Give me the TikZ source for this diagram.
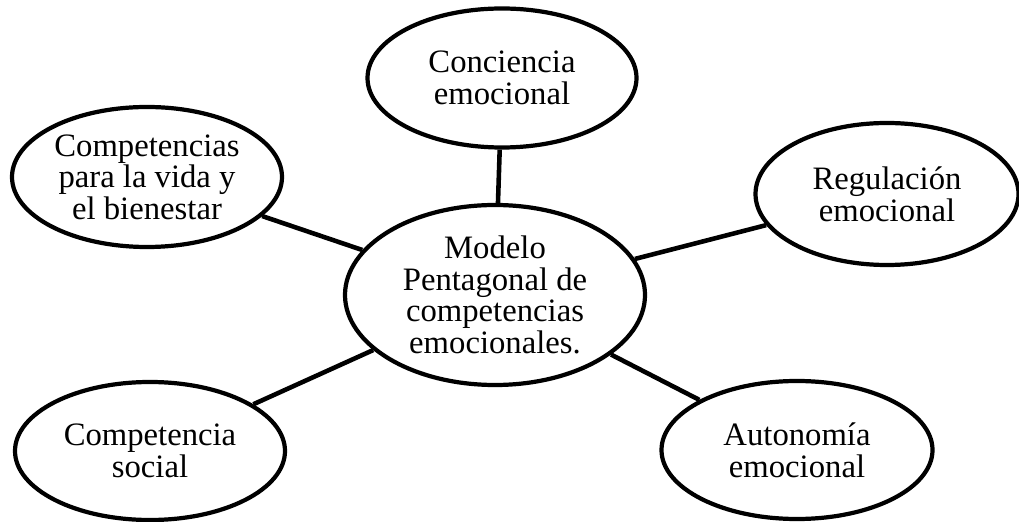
\documentclass[tikz,border=0pt]{standalone}
\usepackage{fontspec}
\setmainfont{Liberation Serif}
\usetikzlibrary{shapes,positioning}

\begin{document}
\begin{tikzpicture}[
    topic/.style={ellipse, draw=black, line width=2.4pt, fill=white, inner sep=0pt, align=center, font=\fontsize{18.6}{18}\selectfont},
    core/.style={topic, minimum width=6cm, minimum height=3.6cm},
    link/.style={line width=2.6pt}
]
\useasboundingbox (0,0) rectangle (20.38,10.42);

% Central node
\node[core] (model) at (9.9,4.52) {Modelo\\Pentagonal de\\competencias\\emocionales.};

% Surrounding competences
\node[topic, minimum width=5.38cm, minimum height=2.78cm] (awareness) at (10.04,8.86) {Conciencia\\emocional};
\node[topic, minimum width=5.4cm, minimum height=2.8cm] (life) at (2.94,6.88) {Competencias\\para la vida y\\el bienestar};
\node[topic, minimum width=5.26cm, minimum height=2.84cm] (regulation) at (17.74,6.54) {Regulación\\emocional};
\node[topic, minimum width=5.4cm, minimum height=2.76cm] (social) at (3.0,1.4) {Competencia\\social};
\node[topic, minimum width=5.42cm, minimum height=2.76cm] (autonomy) at (15.94,1.42) {Autonomía\\emocional};

% Connections
\draw[link] (model) -- (awareness);
\draw[link] (model) -- (life);
\draw[link] (model) -- (regulation);
\draw[link] (model) -- (social);
\draw[link] (model) -- (autonomy);

\end{tikzpicture}
\end{document}
